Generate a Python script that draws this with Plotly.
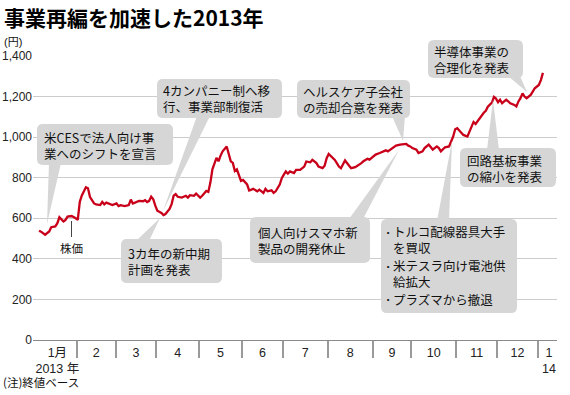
import numpy as np
import plotly.graph_objects as go

# ---------------- data ----------------
# trading-day index from 2013-01-04 and closing price (yen)
trade_day = [0, 1, 3, 5, 6, 8, 9, 10, 12, 13,
             14, 16, 18, 19, 20, 21, 23, 24, 25, 27,
             28, 30, 31, 32, 33, 35, 36, 38, 39, 40,
             42, 44, 45, 46, 48, 49, 51, 52, 53, 54,
             55, 56, 57, 58, 60, 61, 62, 64, 65, 66,
             67, 68, 70, 72, 73, 74, 76, 77, 79, 80,
             82, 83, 84, 85, 87, 88, 89, 90, 92, 93,
             94, 95, 96, 97, 98, 99, 100, 102, 103, 105,
             107, 108, 110, 111, 112, 114, 115, 116, 118, 119,
             120, 121, 122, 123, 125, 126, 128, 130, 131, 133,
             134, 136, 137, 139, 140, 141, 142, 143, 145, 146,
             147, 148, 149, 150, 152, 153, 155, 157, 158, 159,
             161, 162, 164, 165, 167, 169, 170, 171, 173, 174,
             175, 177, 179, 180, 181, 182, 183, 185, 186, 188,
             189, 191, 192, 193, 195, 196, 197, 198, 199, 201,
             202, 203, 204, 205, 206, 207, 208, 210, 211, 213,
             214, 216, 217, 218, 219, 220, 222, 223, 224, 225,
             226, 227, 228, 229, 230, 231, 233, 234, 235, 236,
             237, 238, 239, 240, 241, 242, 243, 245, 246, 247]
close = [539, 534, 519, 535, 556, 560, 576, 605, 584, 592,
         608, 611, 600, 592, 681, 713, 753, 748, 705, 673,
         668, 665, 681, 669, 677, 668, 665, 673, 660, 665,
         660, 665, 692, 673, 681, 686, 684, 689, 680, 686,
         707, 694, 662, 637, 626, 616, 621, 646, 670, 711,
         719, 706, 702, 711, 702, 714, 711, 722, 702, 711,
         735, 730, 776, 841, 898, 881, 909, 930, 954, 914,
         881, 873, 833, 841, 808, 784, 789, 767, 737, 745,
         733, 741, 725, 745, 733, 738, 725, 733, 766, 798,
         815, 831, 820, 831, 823, 839, 839, 855, 880, 876,
         888, 872, 855, 847, 859, 896, 917, 907, 888, 872,
         855, 847, 863, 885, 859, 847, 852, 863, 872, 881,
         893, 889, 906, 914, 922, 930, 935, 930, 946, 951,
         958, 963, 966, 967, 958, 954, 946, 938, 922, 930,
         946, 963, 951, 938, 954, 946, 930, 941, 950, 954,
         979, 1003, 1039, 1044, 1033, 1023, 1011, 1003, 1030, 1075,
         1065, 1095, 1105, 1120, 1130, 1150, 1170, 1198, 1190, 1172,
         1184, 1167, 1176, 1184, 1176, 1167, 1159, 1151, 1176, 1192,
         1216, 1200, 1192, 1200, 1208, 1224, 1241, 1257, 1281, 1317]

days_per_month = [19, 19, 20, 21, 21, 20, 22, 22, 19, 22, 20, 20]
month_labels = ["1月<br>2013 年", "2", "3", "4", "5", "6", "7", "8", "9",
                "10", "11", "12", "1<br>14"]
y_ticks = [0, 200, 400, 600, 800, 1000, 1200, 1400]
y_tick_text = ["0", "200", "400", "600", "800", "1,000", "1,200", "1,400"]

title_text = "事業再編を加速した2013年"
unit_text = "(円)"
note_text = "(注)終値ベース"
series_label = "株価"

# ---------------- layout geometry ----------------
W, H = 570, 395
L, R, T, B = 33, 557, 56, 340          # plot area in pixels
X_RANGE = [-2.94, 253.9]

def px(x):
    return (x - L) / (R - L)

def py(y):
    return (B - y) / (B - T)

bounds = list(np.cumsum(days_per_month) - 0.5)
starts = [-0.5] + bounds[:-1]
centers = [(s + e) / 2 for s, e in zip(starts, bounds)] + [250.0]

GRAY_BOX = "#d6d6d6"
JP = "Noto Sans CJK JP"
LAT = "Liberation Sans, Noto Sans CJK JP"

fig = go.Figure()
fig.add_trace(go.Scatter(
    x=trade_day, y=close, mode="lines",
    line=dict(color="#c8001a", width=2.3, shape="linear"),
    hoverinfo="skip", showlegend=False,
))

shapes = []
annotations = []

def rrect(x0, y0, x1, y1, r=6):
    pts = [
        ("M", [(x0 + r, y0)]), ("L", [(x1 - r, y0)]), ("Q", [(x1, y0), (x1, y0 + r)]),
        ("L", [(x1, y1 - r)]), ("Q", [(x1, y1), (x1 - r, y1)]),
        ("L", [(x0 + r, y1)]), ("Q", [(x0, y1), (x0, y1 - r)]),
        ("L", [(x0, y0 + r)]), ("Q", [(x0, y0), (x0 + r, y0)]),
    ]
    s = ""
    for cmd, ps in pts:
        s += cmd + " " + " ".join(f"{px(a):.5f},{py(b):.5f}" for a, b in ps) + " "
    return s + "Z"

def wedge(b1, b2, tip):
    return (f"M {px(b1[0]):.5f},{py(b1[1]):.5f} L {px(tip[0]):.5f},{py(tip[1]):.5f} "
            f"L {px(b2[0]):.5f},{py(b2[1]):.5f} Z")

def add_shape(path):
    shapes.append(dict(type="path", path=path, xref="paper", yref="paper",
                       fillcolor=GRAY_BOX, line=dict(width=0), layer="above"))

def add_text(x, y, text, size=12.5, family=JP, xanchor="left", color="#111"):
    annotations.append(dict(x=px(x), y=py(y), xref="paper", yref="paper",
                            text=text, showarrow=False, xanchor=xanchor,
                            yanchor="middle", align="left",
                            font=dict(size=size, family=family, color=color)))

# callouts: box (x0,y0,x1,y1), wedge base/tip, text blocks (x, y-center, text)
callouts = [
    dict(box=(37, 124, 173, 165), wedge=((49, 163), (61, 163), (47, 224)),
         blocks=[(42, 145.5, "米CESで法人向け事<br>業へのシフトを宣言")]),
    dict(box=(157, 79, 282, 118), wedge=((197, 116), (210, 116), (163, 211)),
         blocks=[(161, 98.5, "4カンパニー制へ移<br>行、事業部制復活")]),
    dict(box=(121, 239, 222, 283), wedge=((136, 241), (149, 241), (160, 218)),
         blocks=[(126, 261, "3カ年の新中期<br>計画を発表")]),
    dict(box=(297, 80, 410, 118), wedge=((392, 116), (405, 116), (403, 141)),
         blocks=[(301, 99.5, "ヘルスケア子会社<br>の売却合意を発表")]),
    dict(box=(250, 217, 370, 263), wedge=((349, 219), (363, 219), (399, 150)),
         blocks=[(256, 240, "個人向けスマホ新<br>製品の開発休止")]),
    dict(box=(428, 40, 523, 78), wedge=((508, 76), (520, 76), (527, 92)),
         blocks=[(432, 59.5, "半導体事業の<br>合理化を発表")]),
    dict(box=(460, 148, 556, 187), wedge=((487, 150), (499, 150), (493, 100)),
         blocks=[(465, 168, "回路基板事業<br>の縮小を発表")]),
    dict(box=(381, 219, 517, 313), wedge=((437, 221), (449, 221), (452, 141)),
         blocks=[(383, 232, "･"), (391, 239.5, "トルコ配線器具大手<br>を買収"),
                 (383, 266, "･"), (391, 273.5, "米テスラ向け電池供<br>給拡大"),
                 (383, 299, "･"), (391, 299, "プラズマから撤退")]),
]

for c in callouts:
    add_shape(rrect(*c["box"]))
    b1, b2, tip = c["wedge"]
    add_shape(wedge(b1, b2, tip))
    for x, y, t in c["blocks"]:
        add_text(x, y, t)

# series label with leader
shapes.append(dict(type="line", xref="paper", yref="paper",
                   x0=px(71.5), x1=px(71.5), y0=py(221), y1=py(237),
                   line=dict(color="#444", width=1), layer="above"))
add_text(71.5, 248, series_label, size=11.5, xanchor="center")

# title, unit, note
add_text(2, 17, f"<b>{title_text}</b>", size=21, color="#000")
add_text(2, 42, unit_text, size=11, family=LAT)
add_text(1, 382, note_text, size=11.5)

fig.update_layout(
    width=W, height=H,
    margin=dict(l=L, r=W - R, t=T, b=H - B, pad=0),
    paper_bgcolor="white", plot_bgcolor="white",
    showlegend=False,
    shapes=shapes, annotations=annotations,
    xaxis=dict(
        range=X_RANGE, showgrid=False, zeroline=False, showline=False,
        automargin=False,
        tickmode="array", tickvals=centers, ticktext=month_labels,
        ticks="", ticklabelstandoff=3,
        tickfont=dict(size=12.5, family=LAT, color="#222"),
        minor=dict(tickmode="array", tickvals=bounds, ticks="outside",
                   ticklen=17, tickwidth=1.5, tickcolor="#9a9a9a", showgrid=False),
    ),
    yaxis=dict(
        range=[0, 1400], tickmode="array", tickvals=y_ticks, ticktext=y_tick_text,
        automargin=False,
        showgrid=True, gridcolor="#cccccc", gridwidth=1.2,
        zeroline=True, zerolinecolor="#8a8a8a", zerolinewidth=1.4,
        showline=False, ticks="", tickfont=dict(size=12, family=LAT, color="#222"),
    ),
)

fig.write_html("out.html", config={"displayModeBar": False},
               post_script="document.body.style.margin='0';document.body.style.padding='0';")
